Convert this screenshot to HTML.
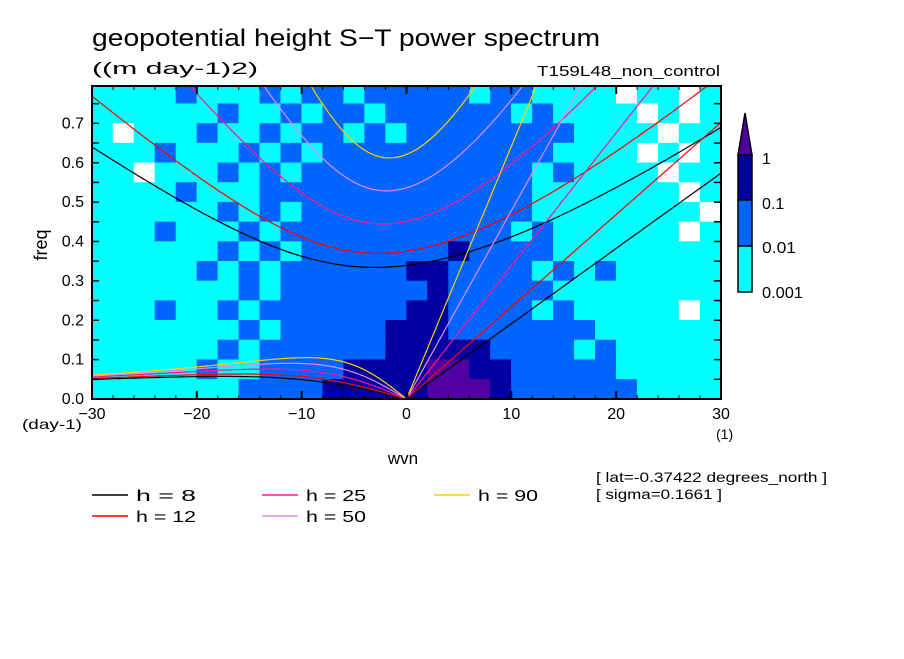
<!DOCTYPE html>
<html><head><meta charset="utf-8"><style>
body{margin:0;background:#fff;}
svg text{font-family:"Liberation Sans",sans-serif;}
</style></head><body>
<svg id="c" width="904" height="654" viewBox="0 0 904 654" xmlns="http://www.w3.org/2000/svg">
<defs><clipPath id="clip"><rect x="92" y="86" width="629" height="313"/></clipPath></defs>
<g id="field" clip-path="url(#clip)"></g>
<g id="curves" clip-path="url(#clip)"></g>
<rect x="92" y="86" width="629" height="313" fill="none" stroke="#000" stroke-width="2"/>
<g id="axes"></g>
<text x="92" y="46" font-size="24" textLength="508" lengthAdjust="spacingAndGlyphs">geopotential height S−T power spectrum</text>
<text x="92" y="74" font-size="17" textLength="166" lengthAdjust="spacingAndGlyphs">((m day-1)2)</text>
<text x="720" y="76" font-size="15" text-anchor="end" textLength="183" lengthAdjust="spacingAndGlyphs">T159L48_non_control</text>
<text x="47" y="245" font-size="18" text-anchor="middle" transform="rotate(-90 47 245)">freq</text>
<text x="403" y="464" font-size="17" text-anchor="middle">wvn</text>
<text x="22" y="429" font-size="14" textLength="60" lengthAdjust="spacingAndGlyphs">(day-1)</text>
<text x="716" y="439" font-size="14">(1)</text>
<text x="596" y="482" font-size="14" textLength="231" lengthAdjust="spacingAndGlyphs">[ lat=-0.37422 degrees_north ]</text>
<text x="596" y="499" font-size="14" textLength="126" lengthAdjust="spacingAndGlyphs">[ sigma=0.1661 ]</text>
<g>
<polygon points="738,155 752,155 745,113" fill="#5000a0" stroke="#000" stroke-width="1.5"/>
<rect x="738" y="155" width="14" height="45" fill="#0000a0" stroke="#000" stroke-width="1.5"/>
<rect x="738" y="200" width="14" height="46" fill="#0064ff" stroke="#000" stroke-width="1.5"/>
<rect x="738" y="246" width="14" height="46" fill="#00ffff" stroke="#000" stroke-width="1.5"/>
<text x="762" y="164" font-size="16">1</text>
<text x="762" y="209" font-size="16">0.1</text>
<text x="762" y="253" font-size="16" textLength="34" lengthAdjust="spacingAndGlyphs">0.01</text>
<text x="762" y="298" font-size="16" textLength="41" lengthAdjust="spacingAndGlyphs">0.001</text>
</g>
<g id="legend"></g>
</svg>
<script>
const NS="http://www.w3.org/2000/svg";
const xTicks=[-30,-20,-10,0,10,20,30];
const yTicks=[0.0,0.1,0.2,0.3,0.4,0.5,0.6,0.7];
const depths=[8,12,25,50,90];
const depthColors=["#000000","#ff0000","#ff1493","#e08ce8","#ffd000"];
const levelColors=["#ffffff","#00ffff","#0064ff","#0000a0","#5000a0"];
// coarse power levels, rows from top (0.80) to bottom (0.0), cols -30..30 step 2
const fieldRows=[
"111121112122122222122111101101",
"111111211212212222221211110101",
"101112112122121222222221111011",
"111211121212222222222211110101",
"110111212122222222222121111011",
"111121112222222222222111111101",
"111111212122222222222111111110",
"111211121222222222221211111101",
"111111212122222223222211111111",
"111112121222222332222121211111",
"111111121222222232222211111111",
"111211212222222332222121111101",
"111111121222223332222222111111",
"111111212222223333322221211111",
"111112112222333344332222211111",
"111111122223333344432222221111"];
const X=w=>406.5+w*10.483, Y=f=>399-f*393.75;
function mk(tag,attrs,parent){const e=document.createElementNS(NS,tag);for(const k in attrs)e.setAttribute(k,attrs[k]);parent.appendChild(e);return e;}
const field=document.getElementById('field');
fieldRows.forEach((row,r)=>{for(let c=0;c<row.length;c++){
 const w0=-30+2*c, f1=0.8-0.05*r;
 const e=mk('rect',{x:X(w0)-0.2,y:Y(f1)-0.2,width:X(w0+2)-X(w0)+0.4,height:Y(f1-0.05)-Y(f1)+0.4,fill:levelColors[+row[c]]},field);
 
 
}});
const ax=document.getElementById('axes');
for(let w=-30;w<=30;w+=2){const big=w%10===0;mk('line',{x1:X(w),x2:X(w),y1:399,y2:399-(big?8:4),stroke:'#000','stroke-width':big?2:1},ax);mk('line',{x1:X(w),x2:X(w),y1:86,y2:86+(big?8:4),stroke:'#000','stroke-width':big?2:1},ax);}
for(let f=0;f<=0.8;f+=0.05){const y=Y(f);mk('line',{x1:92,x2:99,y1:y,y2:y,stroke:'#000','stroke-width':1.5},ax);mk('line',{x1:721,x2:714,y1:y,y2:y,stroke:'#000','stroke-width':1.5},ax);}
xTicks.forEach(t=>{const e=mk('text',{x:X(t),y:419,'font-size':16,'text-anchor':'middle'},ax);e.textContent=(t<0?'−':'')+Math.abs(t);
 
 });
yTicks.forEach(t=>{const e=mk('text',{x:84,y:Y(t)+5,'font-size':16,'text-anchor':'end'},ax);e.textContent=t.toFixed(1);
 
 });
const a=6.371e6,g=9.81,beta=2*7.292e-5/a,toC=86400/(2*Math.PI);
const cur=document.getElementById('curves');
function solve(k,c,w){for(let i=0;i<60;i++){const F=w*w*w-(c*c*k*k+3*beta*c)*w-beta*c*c*k;const d=3*w*w-(c*c*k*k+3*beta*c);w-=F/d;}return w;}
depths.forEach((h,i)=>{const c=Math.sqrt(g*h);let kel=[],igp=[],er=[];
 for(let wv=-30;wv<=30.001;wv+=0.2){const k=wv/a;
  if(wv>=0)kel.push([wv,c*k*toC]);
  igp.push([wv,solve(k,c,Math.sqrt(c*c*k*k+3*beta*c)+1e-7)*toC]);
  if(wv<=0){const w0=-beta*k/(k*k+3*beta/c);er.push([wv,(Math.abs(wv)<1e-9?0:solve(k,c,w0))*toC]);}
 }
 [kel,igp,er].forEach((pts,j)=>{const e=mk('polyline',{points:pts.map(p=>X(p[0]).toFixed(1)+','+Y(p[1]).toFixed(1)).join(' '),fill:'none',stroke:depthColors[i],'stroke-width':1.2},cur);
  
  });
});
const lg=document.getElementById('legend');
const lpos=[[92,495],[92,516],[262,495],[262,516],[434,495]];
depths.forEach((h,i)=>{const [x,y]=lpos[i];
 const l=mk('line',{x1:x,x2:x+36,y1:y,y2:y,stroke:depthColors[i],'stroke-width':1.5},lg);
 
 
 const t=mk('text',{x:x+44,y:y+6,'font-size':16,'xml:space':'preserve',textLength:60,lengthAdjust:'spacingAndGlyphs'},lg);t.textContent='h = '+(h<10?' ':'')+h;
 
 });
</script>
</body></html>
